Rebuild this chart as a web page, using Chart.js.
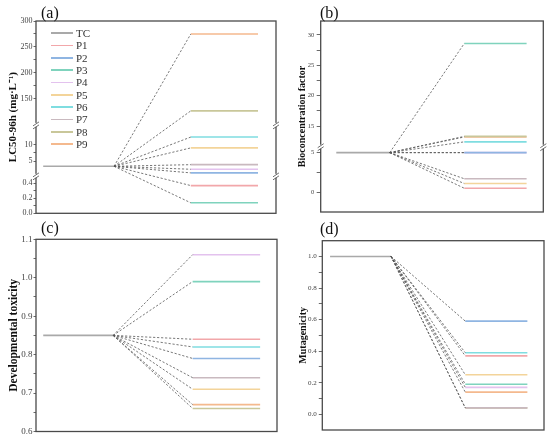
<!DOCTYPE html>
<html>
<head>
<meta charset="utf-8">
<script src="https://cdn.jsdelivr.net/npm/chart.js@4.4.0/dist/chart.umd.min.js"></script>
<style>
  body { margin: 0; background: #fff; }
  #wrap { position: relative; width: 550px; height: 438px; overflow: hidden;
          font-family: "Liberation Serif", "Times New Roman", serif; }
  #wrap canvas { position: absolute; }
  .tag { position: absolute; font-size: 16px; line-height: 16px; color: #111; }
  .legend { position: absolute; left: 51px; top: 27px; font-size: 11px; color: #333; }
  .legend .row { height: 12.33px; display: flex; align-items: center; }
  .legend .ln { display: inline-block; width: 22px; height: 1.5px; margin-right: 3px; }
</style>
</head>
<body>
<div id="wrap">
  <canvas id="cA" width="280" height="220" style="left:0;top:0"></canvas>
  <canvas id="cB" width="270" height="220" style="left:280px;top:0"></canvas>
  <canvas id="cC" width="280" height="218" style="left:0;top:220px"></canvas>
  <canvas id="cD" width="270" height="218" style="left:280px;top:220px"></canvas>
  <div class="tag" style="left:41px;top:5px">(a)</div>
  <div class="tag" style="left:320px;top:5px">(b)</div>
  <div class="tag" style="left:41px;top:220px">(c)</div>
  <div class="tag" style="left:320px;top:221px">(d)</div>
  <div class="legend" id="legend"></div>
</div>
<script>
// series: TC first, then the nine products
const seriesNames = ['TC', 'P1', 'P2', 'P3', 'P4', 'P5', 'P6', 'P7', 'P8', 'P9'];
const seriesColors = ['#a9a9a9', '#f2a7aa', '#8fb5e2', '#7fd3bd', '#e3c2ee',
                      '#f3d49a', '#7fdde0', '#c9b9bf', '#c9c79a', '#f4b98e'];

// values (same order as seriesNames)
const lc50   = [3.4, 0.37, 1.4, 0.14, 2.5, 9.0, 12.3, 3.9, 127, 275];
const bcf    = [5.0, 0.5, 5.0, 28.6, 5.0, 1.1, 12.4, 1.7, 13.3, 13.2];
const devTox = [0.85, 0.84, 0.79, 0.99, 1.06, 0.71, 0.82, 0.74, 0.66, 0.67];
const mutag  = [1.0, 0.37, 0.59, 0.19, 0.17, 0.25, 0.39, 0.04, 0.04, 0.14];

// tick values and their labels
const ticksA = [0, 0.2, 0.4, 5, 10, 150, 200, 250, 300];
const labelsA = ['0.0', '0.2', '0.4', '5', '10', '150', '200', '250', '300'];
const minorA = [0.1, 0.3, 7.5, 175, 225, 275];
const ticksB = [0, 5, 15, 20, 25, 30];
const labelsB = ['0', '5', '15', '20', '25', '30'];
const minorB = [2.5, 17.5, 22.5, 27.5];
const ticksC = [0.6, 0.7, 0.8, 0.9, 1.0, 1.1];
const labelsC = ['0.6', '0.7', '0.8', '0.9', '1.0', '1.1'];
const minorC = [0.65, 0.75, 0.85, 0.95, 1.05];
const ticksD = [0.0, 0.2, 0.4, 0.6, 0.8, 1.0];
const labelsD = ['0.0', '0.2', '0.4', '0.6', '0.8', '1.0'];
const minorD = [0.1, 0.3, 0.5, 0.7, 0.9];

// x stages: TC start, TC end, product start, product end
const stagesA = [0.3, 3.25, 6.45, 9.25];
const stagesB = [0.7, 3.1, 6.45, 9.25];
const stagesC = [0.3, 3.2, 6.5, 9.3];
const stagesD = [0.35, 3.1, 6.45, 9.25];

// broken axis pieces (value range -> share of the axis)
const segA = [{ lo: 0, hi: 0.5, size: 37.5 }, { lo: 0.5, hi: 16, size: 51 }, { lo: 100, hi: 300, size: 104 }];
const segB = [{ lo: -2.5, hi: 5.75, size: 65.3 }, { lo: 11.6, hi: 32.3, size: 125.7 }];
const segC = [{ lo: 0.6, hi: 1.1, size: 1 }];
const segD = [{ lo: -0.1, hi: 1.1, size: 1 }];

function makeMap(segs) {
    return (v) => {
        let base = 0;
        for (let i = 0; i < segs.length; i++) {
            const s = segs[i];
            if (v <= s.hi || i === segs.length - 1) {
                return base + (Math.max(v, s.lo) - s.lo) / (s.hi - s.lo) * s.size;
            }
            base += s.size;
        }
    };
}

// plot frame + break marks
const framePlugin = {
    id: 'frame',
    afterDatasetsDraw(chart, args, opts) {
        const { ctx, chartArea: { left, top, right, bottom } } = chart;
        ctx.save();
        ctx.strokeStyle = '#4a4a4a';
        ctx.lineWidth = 1.3;
        ctx.strokeRect(left, top, right - left, bottom - top);
        ctx.lineWidth = 0.8;
        (opts.breaks || []).forEach((b) => {
            const y = chart.scales.y.getPixelForValue(b);
            [left, right].forEach((x) => {
                ctx.fillStyle = '#fff';
                ctx.fillRect(x - 2, y - 2, 4, 4);
                ctx.beginPath();
                ctx.moveTo(x - 3, y + 1); ctx.lineTo(x + 3, y - 3);
                ctx.moveTo(x - 3, y + 4); ctx.lineTo(x + 3, y);
                ctx.stroke();
            });
        });
        ctx.restore();
    }
};

function buildPanel(canvasId, vals, segs, stages, major, labels, minor, cfg) {
    const map = makeMap(segs);
    const total = segs.reduce((a, s) => a + s.size, 0);
    const tc = map(vals[0]);
    const datasets = [];

    // dashed connectors from TC to each product
    for (let i = 1; i < vals.length; i++) {
        datasets.push({
            data: [{ x: stages[1], y: tc }, { x: stages[2], y: map(vals[i]) }],
            borderColor: '#555', borderWidth: 0.8, borderDash: [2.2, 1.8],
            pointRadius: 0
        });
    }
    datasets.push({
        data: [{ x: stages[0], y: tc }, { x: stages[1], y: tc }],
        borderColor: seriesColors[0], borderWidth: 1.6, pointRadius: 0
    });
    for (let i = 1; i < vals.length; i++) {
        datasets.push({
            data: [{ x: stages[2], y: map(vals[i]) }, { x: stages[3], y: map(vals[i]) }],
            borderColor: seriesColors[i], borderWidth: 1.6, pointRadius: 0
        });
    }

    const allTicks = major.map((v, i) => ({ value: map(v), label: labels[i] }))
        .concat(minor.map((v) => ({ value: map(v), label: '' })));

    // break positions between pieces
    const breaks = [];
    let acc = 0;
    for (let i = 0; i < segs.length - 1; i++) { acc += segs[i].size; breaks.push(acc); }

    return new Chart(document.getElementById(canvasId), {
        type: 'line',
        data: { datasets },
        plugins: [framePlugin],
        options: {
            responsive: false,
            animation: false,
            layout: { padding: cfg.padding },
            plugins: {
                legend: { display: false },
                tooltip: { enabled: false },
                frame: { breaks }
            },
            scales: {
                x: { type: 'linear', display: false, min: 0, max: 10 },
                y: {
                    type: 'linear',
                    min: 0,
                    max: total,
                    afterBuildTicks: (scale) => {
                        scale.ticks = allTicks.map((t) => ({ value: t.value }));
                    },
                    afterFit: (scale) => { scale.width = cfg.axisWidth; },
                    border: { display: false },
                    grid: {
                        drawOnChartArea: false,
                        drawTicks: true,
                        tickLength: cfg.tickLength,
                        tickColor: '#444',
                        tickWidth: 0.8
                    },
                    ticks: {
                        autoSkip: false,
                        padding: cfg.tickPad,
                        color: '#444',
                        font: { family: "'Liberation Serif', serif", size: cfg.tickSize },
                        callback: (value, index) => allTicks[index].label
                    },
                    title: {
                        display: true,
                        text: cfg.title,
                        color: '#111',
                        font: { family: "'Liberation Serif', serif", size: cfg.titleSize, weight: 'bold' },
                        padding: { top: cfg.titlePad, bottom: 0 }
                    }
                }
            }
        }
    });
}

buildPanel('cA', lc50, segA, stagesA, ticksA, labelsA, minorA, {
    padding: { top: 21, right: 4, bottom: 6.7, left: 0 },
    axisWidth: 36, tickLength: 2.5, tickPad: 1, tickSize: 8,
    title: 'LC50-96h (mg·L⁻¹)', titleSize: 11, titlePad: 6.5
});
buildPanel('cB', bcf, segB, stagesB, ticksB, labelsB, minorB, {
    padding: { top: 21, right: 6.7, bottom: 8, left: 0 },
    axisWidth: 40.7, tickLength: 4, tickPad: 2.4, tickSize: 6.5,
    title: 'Bioconcentration factor', titleSize: 10, titlePad: 16
});
buildPanel('cC', devTox, segC, stagesC, ticksC, labelsC, minorC, {
    padding: { top: 19.3, right: 3, bottom: 6.5, left: 0 },
    axisWidth: 36, tickLength: 2.5, tickPad: 1, tickSize: 9,
    title: 'Developmental toxicity', titleSize: 11.5, titlePad: 7.5
});
buildPanel('cD', mutag, segD, stagesD, ticksD, labelsD, minorD, {
    padding: { top: 20.7, right: 6, bottom: 8, left: 0 },
    axisWidth: 42.3, tickLength: 3.5, tickPad: 2, tickSize: 7,
    title: 'Mutagenicity', titleSize: 10, titlePad: 17.3
});

// legend for panel (a)
const legend = document.getElementById('legend');
seriesNames.forEach((name, i) => {
    const row = document.createElement('div');
    row.className = 'row';
    const ln = document.createElement('span');
    ln.className = 'ln';
    ln.style.background = seriesColors[i];
    row.appendChild(ln);
    row.appendChild(document.createTextNode(name));
    legend.appendChild(row);
});
</script>
</body>
</html>
